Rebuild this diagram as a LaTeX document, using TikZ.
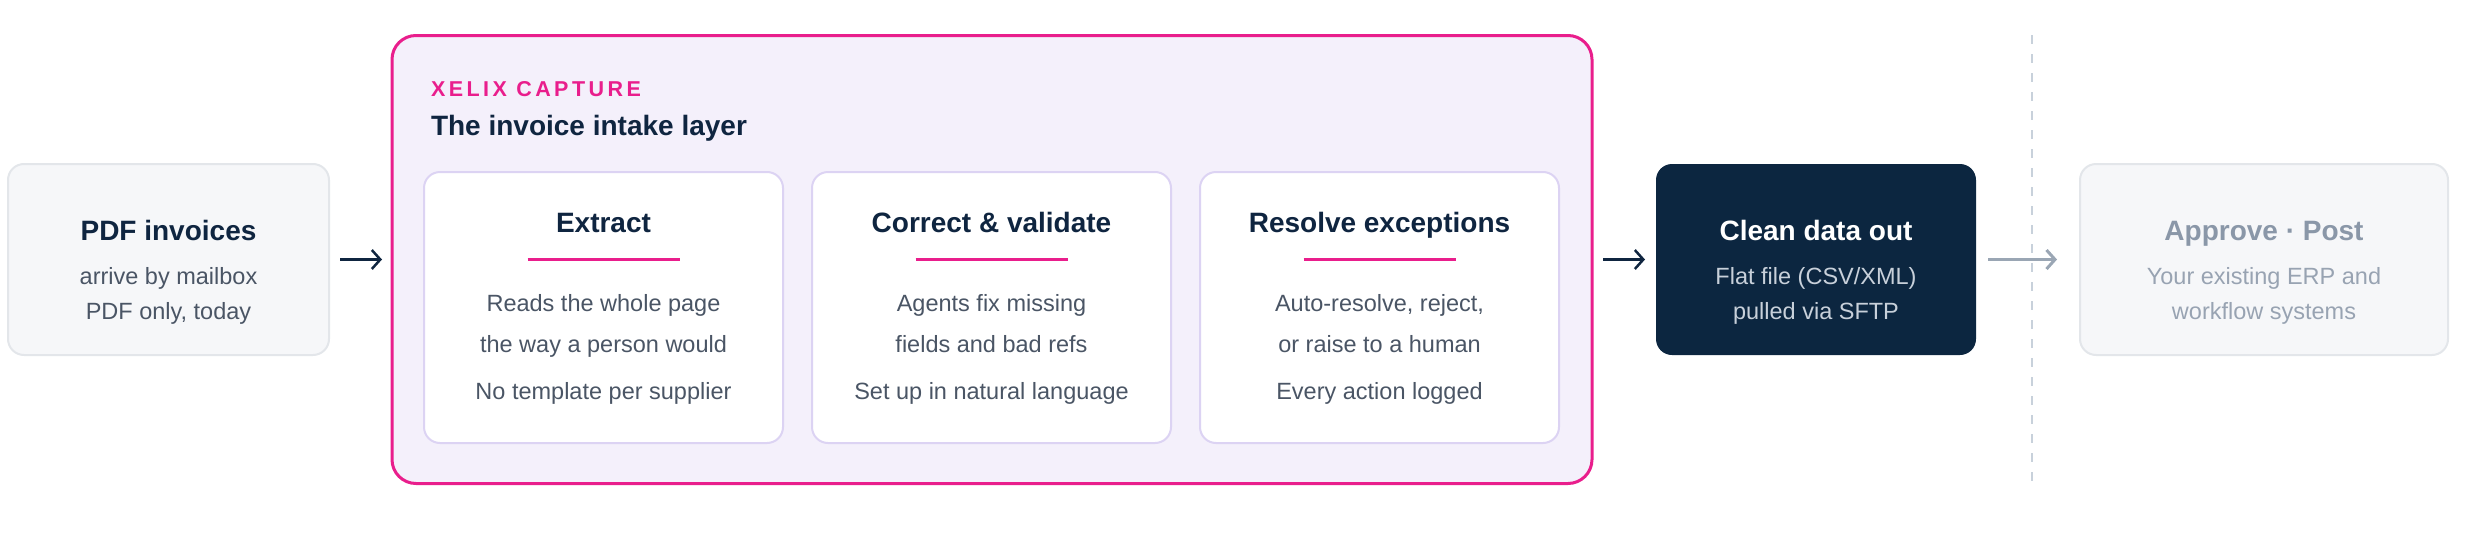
\documentclass[tikz,border=0pt]{standalone}
\usepackage{fontspec}
\setmainfont{Liberation Sans}
\newfontfamily\trackfont[LetterSpace=16]{Liberation Sans}
\usetikzlibrary{arrows.meta}
\definecolor{navy}{HTML}{0F2540}
\definecolor{slate}{HTML}{4A5565}
\definecolor{pink}{HTML}{E91E8C}
\definecolor{lav}{HTML}{F4F0FB}
\definecolor{lavline}{HTML}{DCD3F3}
\definecolor{greyfill}{HTML}{F6F7F9}
\definecolor{greyline}{HTML}{E3E6EA}
\definecolor{darkfill}{HTML}{0C2640}
\definecolor{fadetitle}{HTML}{8A97A8}
\definecolor{fadebody}{HTML}{98A3B2}
\definecolor{darkbody}{HTML}{C8D0DA}
\definecolor{dashc}{HTML}{C8D1DB}
\definecolor{arrowgrey}{HTML}{9AA6B4}
\begin{document}
\begin{tikzpicture}[x=1pt,y=-1pt,
  every node/.style={inner sep=0pt, outer sep=0pt},
  greybox/.style={draw=greyline, fill=greyfill, line width=2pt, rounded corners=16pt},
  darkbox/.style={fill=darkfill, rounded corners=16pt},
  layerbox/.style={draw=pink, fill=lav, line width=3pt, rounded corners=24pt},
  cardbox/.style={draw=lavline, fill=white, line width=2pt, rounded corners=16pt,
    minimum width=359pt, minimum height=271pt},
  ttl/.style={anchor=base, text=navy, font=\fontsize{28}{34}\selectfont\bfseries},
  body/.style={anchor=base, text=slate, font=\fontsize{23.5}{28}\selectfont},
  pinkbar/.style={draw=pink, line width=3pt},
  arr/.style={draw=navy, line width=2.5pt, -{Straight Barb[length=8.5pt,width=19pt,line width=2.5pt]}},
  arrgrey/.style={draw=arrowgrey, line width=3pt, -{Straight Barb[length=8.5pt,width=19pt,line width=3pt]}},
  divider/.style={draw=dashc, line width=2pt, dash pattern=on 9pt off 10pt}
]
\useasboundingbox (0,0) rectangle (2466,541);

% boxes
\node[greybox, minimum width=321pt, minimum height=191pt] (pdf) at (168.5,259.5) {};
\node[layerbox, minimum width=1200pt, minimum height=448pt] (layer) at (992,259.5) {};
\node[cardbox] (c1) at (603.5,307.5) {};
\node[cardbox] (c2) at (991.5,307.5) {};
\node[cardbox] (c3) at (1379.5,307.5) {};
\node[darkbox, minimum width=320pt, minimum height=191pt] (clean) at (1816,259.5) {};
\node[greybox, minimum width=368pt, minimum height=191pt] (approve) at (2264,259.5) {};

% divider
\coordinate (dtop) at (2032,35);
\coordinate (dbot) at (2032,483);
\draw[divider] (dtop) -- (dbot);

% connectors
\draw[arr, shorten <=11pt, shorten >=10pt] (pdf) -- (layer);
\draw[arr, shorten <=11pt, shorten >=11pt] (layer) -- (clean);
\draw[arrgrey, shorten <=12pt, shorten >=23pt] (clean) -- (approve);

% PDF invoices
\node[ttl] (pdft) at (168.5,240) {PDF invoices};
\node[body] (pdfb1) at (168.5,284) {arrive by mailbox};
\node[body] (pdfb2) at (168.5,319.5) {PDF only, today};

% layer header
\node[anchor=base west, text=pink, font=\fontsize{21.5}{26}\trackfont\bfseries] (kicker) at (431,96) {XELIX CAPTURE};
\node[anchor=base west, text=navy, font=\fontsize{28}{34}\selectfont\bfseries] (layert) at (431,135.5) {The invoice intake layer};

% card 1
\node[ttl] (c1t) at (603.5,232) {Extract};
\draw[pinkbar] (527.5,259.5) -- (679.5,259.5);
\node[body] (c1b1) at (603.5,311.5) {Reads the whole page};
\node[body] (c1b2) at (603.5,352) {the way a person would};
\node[body] (c1b3) at (603.5,399.5) {No template per supplier};

% card 2
\node[ttl] (c2t) at (991.5,232) {Correct \& validate};
\draw[pinkbar] (915.5,259.5) -- (1067.5,259.5);
\node[body] (c2b1) at (991.5,311.5) {Agents fix missing};
\node[body] (c2b2) at (991.5,352) {fields and bad refs};
\node[body] (c2b3) at (991.5,399.5) {Set up in natural language};

% card 3
\node[ttl] (c3t) at (1379.5,232) {Resolve exceptions};
\draw[pinkbar] (1303.5,259.5) -- (1455.5,259.5);
\node[body] (c3b1) at (1379.5,311.5) {Auto-resolve, reject,};
\node[body] (c3b2) at (1379.5,352) {or raise to a human};
\node[body] (c3b3) at (1379.5,399.5) {Every action logged};

% clean data
\node[ttl, text=white] (cleant) at (1816,240) {Clean data out};
\node[body, text=darkbody] (cleanb1) at (1816,284) {Flat file (CSV/XML)};
\node[body, text=darkbody] (cleanb2) at (1816,319.5) {pulled via SFTP};

% approve
\node[ttl, text=fadetitle] (appt) at (2264,240) {Approve · Post};
\node[body, text=fadebody] (appb1) at (2264,284) {Your existing ERP and};
\node[body, text=fadebody] (appb2) at (2264,319.5) {workflow systems};
\end{tikzpicture}
\end{document}
